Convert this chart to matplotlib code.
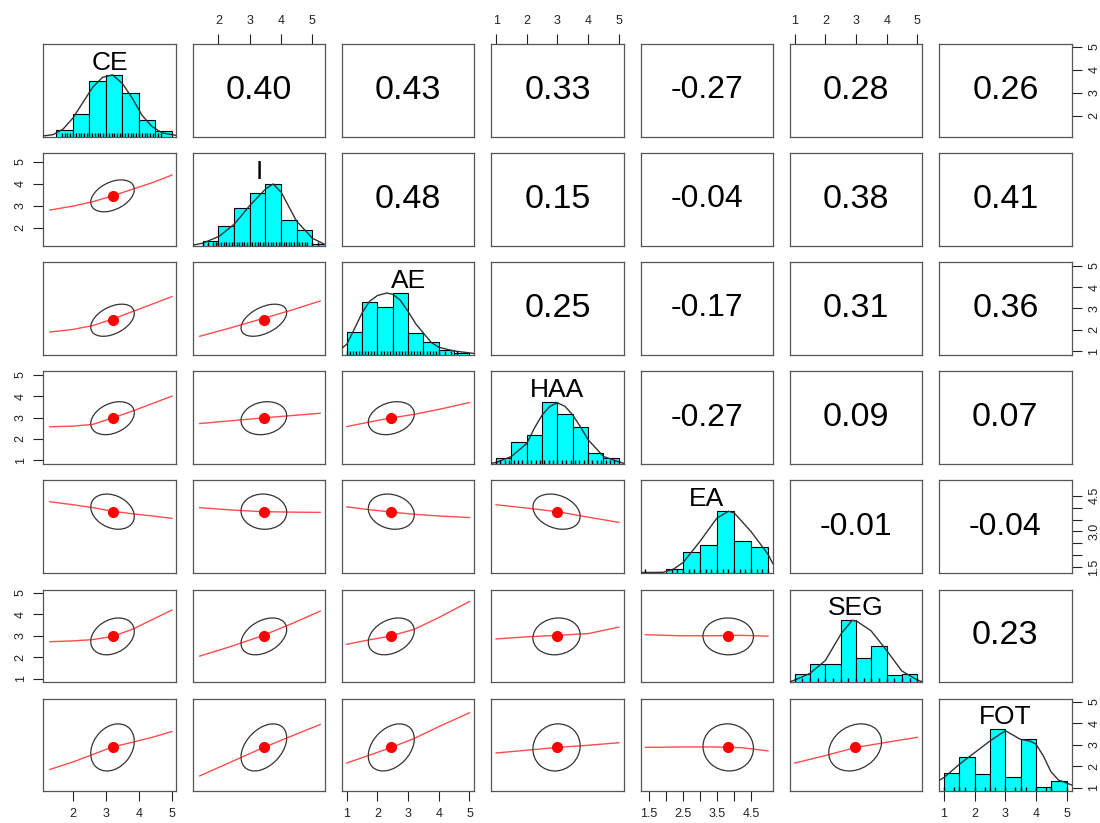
import numpy as np
import matplotlib.pyplot as plt
from matplotlib.patches import Ellipse
from matplotlib.transforms import Affine2D

plt.rcParams['font.family'] = ['Liberation Sans', 'DejaVu Sans']

# ---- data ----
names = ['CE', 'I', 'AE', 'HAA', 'EA', 'SEG', 'FOT']
data_lo = [1.25, 1.33, 1.0, 1.0, 1.4, 1.0, 1.0]
data_hi = [4.97, 5.25, 5.0, 5.0, 5.0, 5.0, 5.0]
means = [3.2, 3.45, 2.45, 2.97, 3.83, 2.97, 2.88]
sds = [0.66, 0.73, 0.75, 0.77, 0.74, 0.86, 1.1]

cor = [[1.00, 0.40, 0.43, 0.33, -0.27, 0.28, 0.26],
       [0.40, 1.00, 0.48, 0.15, -0.04, 0.38, 0.41],
       [0.43, 0.48, 1.00, 0.25, -0.17, 0.31, 0.36],
       [0.33, 0.15, 0.25, 1.00, -0.27, 0.09, 0.07],
       [-0.27, -0.04, -0.17, -0.27, 1.00, -0.01, -0.04],
       [0.28, 0.38, 0.31, 0.09, -0.01, 1.00, 0.23],
       [0.26, 0.41, 0.36, 0.07, -0.04, 0.23, 1.00]]

# histogram breaks and heights (scaled so the tallest bar = 1)
ce_breaks = [1.5, 2.0, 2.5, 3.0, 3.5, 4.0, 4.5, 5.0]
ce_bars = [0.107, 0.358, 0.893, 1.0, 0.706, 0.262, 0.086]
i_breaks = [1.5, 2.0, 2.5, 3.0, 3.5, 4.0, 4.5, 5.0, 5.5]
i_bars = [0.08, 0.32, 0.61, 0.85, 1.0, 0.42, 0.25, 0.03]
ae_breaks = [1.0, 1.5, 2.0, 2.5, 3.0, 3.5, 4.0, 4.5, 5.0]
ae_bars = [0.37, 0.85, 0.78, 1.0, 0.36, 0.20, 0.08, 0.03]
haa_breaks = [1.0, 1.5, 2.0, 2.5, 3.0, 3.5, 4.0, 4.5, 5.0]
haa_bars = [0.09, 0.35, 0.46, 1.0, 0.81, 0.59, 0.18, 0.09]
ea_breaks = [1.0, 1.5, 2.0, 2.5, 3.0, 3.5, 4.0, 4.5, 5.0]
ea_bars = [0.02, 0.0, 0.06, 0.34, 0.45, 1.0, 0.51, 0.42]
seg_breaks = [1.0, 1.5, 2.0, 2.5, 3.0, 3.5, 4.0, 4.5, 5.0]
seg_bars = [0.13, 0.30, 0.30, 1.0, 0.39, 0.58, 0.12, 0.13]
fot_breaks = [1.0, 1.5, 2.0, 2.5, 3.0, 3.5, 4.0, 4.5, 5.0]
fot_bars = [0.30, 0.56, 0.28, 1.0, 0.23, 0.84, 0.07, 0.16]

# density curves (scaled so the peak = 1)
ce_dx = [1.11, 1.4, 1.7, 2.0, 2.3, 2.6, 2.9, 3.2, 3.5, 3.8, 4.1, 4.4, 4.7, 5.11]
ce_dy = [0.01, 0.03, 0.12, 0.3, 0.55, 0.8, 0.96, 1.0, 0.86, 0.62, 0.34, 0.16, 0.06, 0.02]
i_dx = [1.21, 1.5, 2.02, 2.51, 3.0, 3.51, 3.75, 4.01, 4.49, 5.0, 5.39]
i_dy = [0.01, 0.04, 0.15, 0.35, 0.65, 0.92, 1.0, 0.86, 0.40, 0.12, 0.02]
ae_dx = [0.85, 1.0, 1.25, 1.5, 1.75, 2.0, 2.3, 2.5, 2.75, 3.0, 3.25, 3.5, 3.75, 4.0, 4.5, 5.15]
ae_dy = [0.11, 0.17, 0.42, 0.68, 0.87, 0.96, 1.0, 0.98, 0.88, 0.7, 0.5, 0.35, 0.2, 0.12, 0.06, 0.02]
haa_dx = [0.85, 1.0, 1.5, 2.0, 2.25, 2.5, 2.75, 3.0, 3.25, 3.5, 3.75, 4.0, 4.5, 5.0, 5.15]
haa_dy = [0.01, 0.02, 0.12, 0.33, 0.58, 0.79, 0.93, 0.99, 0.93, 0.79, 0.6, 0.39, 0.12, 0.03, 0.01]
ea_dx = [1.26, 1.92, 2.22, 2.51, 3.0, 3.5, 3.84, 4.01, 4.5, 5.0, 5.14]
ea_dy = [0.005, 0.01, 0.06, 0.17, 0.51, 0.89, 1.0, 0.97, 0.67, 0.30, 0.15]
seg_dx = [0.87, 1.0, 1.5, 2.0, 2.51, 2.87, 3.01, 3.49, 4.0, 4.49, 5.0, 5.16]
seg_dy = [0.01, 0.03, 0.14, 0.35, 0.78, 1.0, 0.99, 0.83, 0.51, 0.18, 0.03, 0.005]
fot_dx = [0.86, 1.0, 1.49, 1.99, 2.49, 3.0, 3.49, 3.81, 4.0, 4.24, 4.48, 4.73, 5.0, 5.16]
fot_dy = [0.18, 0.22, 0.43, 0.62, 0.81, 0.98, 0.84, 0.81, 0.76, 0.57, 0.32, 0.18, 0.13, 0.10]

# rug values
ce_rug = [1.67, 1.75, 1.83, 1.92, 2.0, 2.08, 2.17, 2.25, 2.33, 2.42, 2.5, 2.58, 2.67, 2.75,
          2.83, 2.92, 3.0, 3.08, 3.17, 3.25, 3.33, 3.42, 3.5, 3.58, 3.67, 3.75, 3.83, 3.92,
          4.0, 4.08, 4.17, 4.25, 4.33, 4.42, 4.58, 4.67]
i_rug = [1.5, 1.67, 1.83, 1.92, 2.0, 2.08, 2.17, 2.25, 2.33, 2.42, 2.5, 2.58, 2.67, 2.75,
         2.83, 2.92, 3.0, 3.08, 3.17, 3.25, 3.33, 3.42, 3.5, 3.58, 3.67, 3.75, 3.83, 3.92,
         4.0, 4.08, 4.17, 4.25, 4.33, 4.42, 4.5, 4.58, 4.67, 4.75, 4.83, 5.0, 5.17]
ae_rug = [1.0, 1.1, 1.2, 1.3, 1.4, 1.5, 1.6, 1.7, 1.8, 1.9, 2.0, 2.1, 2.2, 2.3, 2.4, 2.5,
          2.6, 2.7, 2.8, 2.9, 3.0, 3.1, 3.2, 3.3, 3.4, 3.5, 3.6, 3.7, 3.8, 3.9, 4.0, 4.2,
          4.4, 4.6]
haa_rug = [1.0, 1.14, 1.29, 1.43, 1.57, 1.71, 1.86, 2.0, 2.14, 2.29, 2.43, 2.57, 2.71,
           2.86, 3.0, 3.14, 3.29, 3.43, 3.57, 3.71, 3.86, 4.0, 4.14, 4.29, 4.43, 4.57,
           4.71, 4.86, 5.0]
ea_rug = [1.4, 2.17, 2.33, 2.5, 2.67, 2.83, 3.0, 3.17, 3.33, 3.5, 3.67, 3.83, 4.0, 4.17,
          4.33, 4.5, 4.67, 4.83, 5.0]
seg_rug = [1.0, 1.25, 1.5, 1.75, 2.0, 2.25, 2.5, 2.75, 3.0, 3.25, 3.5, 3.75, 4.0, 4.25,
           4.5, 4.75, 5.0]
fot_rug = [1.0, 1.33, 1.5, 1.67, 2.0, 2.33, 2.5, 2.67, 3.0, 3.33, 3.5, 3.67, 4.0, 4.33,
           4.5, 5.0]

# smoother (loess) points: x grids per x-variable, y values per pair
grid_CE = [1.3, 2.0, 2.6, 3.2, 3.8, 4.4, 5.0]
grid_I = [1.4, 2.4, 3.4, 4.4, 5.25]
grid_AE = [1.0, 1.7, 2.4, 3.2, 4.0, 5.0]
grid_HAA = [1.0, 2.0, 3.0, 4.0, 5.0]
grid_EA = [1.4, 2.4, 3.4, 4.2, 5.0]
grid_SEG = [1.0, 2.0, 3.0, 4.0, 5.0]

fit_I_CE = [2.8, 2.98, 3.18, 3.45, 3.75, 4.05, 4.4]
fit_AE_CE = [1.9, 2.02, 2.2, 2.5, 2.85, 3.2, 3.55]
fit_AE_I = [1.7, 2.1, 2.52, 2.95, 3.35]
fit_HAA_CE = [2.57, 2.6, 2.68, 2.98, 3.3, 3.65, 4.0]
fit_HAA_I = [2.72, 2.85, 2.98, 3.1, 3.2]
fit_HAA_AE = [2.58, 2.78, 2.97, 3.15, 3.38, 3.7]
fit_EA_CE = [4.25, 4.12, 4.0, 3.85, 3.74, 3.65, 3.55]
fit_EA_I = [4.0, 3.9, 3.83, 3.81, 3.8]
fit_EA_AE = [4.03, 3.92, 3.82, 3.72, 3.65, 3.58]
fit_EA_HAA = [4.12, 3.98, 3.83, 3.6, 3.38]
fit_SEG_CE = [2.72, 2.76, 2.82, 2.97, 3.3, 3.75, 4.2]
fit_SEG_I = [2.05, 2.5, 3.0, 3.6, 4.15]
fit_SEG_AE = [2.6, 2.8, 2.98, 3.3, 3.85, 4.6]
fit_SEG_HAA = [2.85, 2.95, 3.02, 3.1, 3.4]
fit_SEG_EA = [3.05, 3.0, 3.0, 3.02, 2.98]
fit_FOT_CE = [1.85, 2.2, 2.55, 2.9, 3.12, 3.35, 3.62]
fit_FOT_I = [1.55, 2.2, 2.85, 3.45, 3.95]
fit_FOT_AE = [2.15, 2.5, 2.85, 3.3, 3.85, 4.5]
fit_FOT_HAA = [2.62, 2.75, 2.88, 2.98, 3.1]
fit_FOT_EA = [2.88, 2.9, 2.9, 2.87, 2.72]
fit_FOT_SEG = [2.15, 2.5, 2.88, 3.12, 3.35]

breaks = [ce_breaks, i_breaks, ae_breaks, haa_breaks, ea_breaks, seg_breaks, fot_breaks]
bars = [ce_bars, i_bars, ae_bars, haa_bars, ea_bars, seg_bars, fot_bars]
dens_x = [ce_dx, i_dx, ae_dx, haa_dx, ea_dx, seg_dx, fot_dx]
dens_y = [ce_dy, i_dy, ae_dy, haa_dy, ea_dy, seg_dy, fot_dy]
rugs = [ce_rug, i_rug, ae_rug, haa_rug, ea_rug, seg_rug, fot_rug]
grids = [grid_CE, grid_I, grid_AE, grid_HAA, grid_EA, grid_SEG]
fits = {
    (1, 0): fit_I_CE,
    (2, 0): fit_AE_CE, (2, 1): fit_AE_I,
    (3, 0): fit_HAA_CE, (3, 1): fit_HAA_I, (3, 2): fit_HAA_AE,
    (4, 0): fit_EA_CE, (4, 1): fit_EA_I, (4, 2): fit_EA_AE, (4, 3): fit_EA_HAA,
    (5, 0): fit_SEG_CE, (5, 1): fit_SEG_I, (5, 2): fit_SEG_AE, (5, 3): fit_SEG_HAA,
    (5, 4): fit_SEG_EA,
    (6, 0): fit_FOT_CE, (6, 1): fit_FOT_I, (6, 2): fit_FOT_AE, (6, 3): fit_FOT_HAA,
    (6, 4): fit_FOT_EA, (6, 5): fit_FOT_SEG,
}

tick_vals = [[2, 3, 4, 5], [2, 3, 4, 5], [1, 2, 3, 4, 5], [1, 2, 3, 4, 5],
             [1.5, 2.0, 2.5, 3.0, 3.5, 4.0, 4.5], [1, 2, 3, 4, 5], [1, 2, 3, 4, 5]]
ea_bottom_labels = ['1.5', '', '2.5', '', '3.5', '', '4.5']
ea_right_labels = ['1.5', '', '', '3.0', '', '', '4.5']

# ---- layout (pixels) ----
W, H = 1100, 823
fig = plt.figure(figsize=(W / 100, H / 100), dpi=100)
left0, top0 = 43.3, 44.0
pitch_x, pitch_y = 149.3, 109.1
pw, ph = 132.5, 92.5
n = len(names)

box_col = '#555555'
lims = []
for k in range(n):
    span = data_hi[k] - data_lo[k]
    lims.append((data_lo[k] - 0.04 * span, data_hi[k] + 0.04 * span))


def rect(i, j):
    x = left0 + j * pitch_x
    y = top0 + i * pitch_y
    return [x / W, 1 - (y + ph) / H, pw / W, ph / H]


for i in range(n):
    for j in range(n):
        ax = fig.add_axes(rect(i, j))
        ax.set_xlim(lims[j])
        ax.set_ylim(lims[i])
        for s in ax.spines.values():
            s.set_color(box_col)
            s.set_linewidth(0.9)
        ax.tick_params(which='both', length=0, labelbottom=False, labelleft=False,
                       colors='#222222', labelsize=9)
        ax.set_xticks([])
        ax.set_yticks([])

        if i == j:
            hax = fig.add_axes(rect(i, j), frameon=False)
            hax.set_xlim(lims[j])
            hax.set_ylim(0, 1.5)
            hax.set_xticks([])
            hax.set_yticks([])
            b = breaks[j]
            hax.bar(b[:-1], bars[j], width=np.diff(b), align='edge',
                    color='#00FFFF', edgecolor='black', linewidth=0.8)
            hax.plot(dens_x[j], dens_y[j], color='#333333', lw=1.0)
            hax.vlines(rugs[j], 0, 0.06, color='black', lw=1.0)
            hax.text(0.5, 0.8, names[j], transform=hax.transAxes, ha='center',
                     va='center', fontsize=19)
        elif i < j:
            r = cor[i][j]
            ax.text(0.5, 0.5, f'{r:.2f}', transform=ax.transAxes, ha='center',
                    va='center', fontsize=24.5 if r >= 0 else 23)
        else:
            r = cor[i][j]
            ax.plot(grids[j], fits[(i, j)], color='red', lw=1.0, alpha=0.7)
            tr = Affine2D().scale(sds[j], sds[i]).translate(means[j], means[i]) + ax.transData
            ax.add_patch(Ellipse((0, 0), 2 * np.sqrt(1 + r), 2 * np.sqrt(1 - r), angle=45,
                                 fill=False, edgecolor='#333333', lw=0.9, transform=tr))
            ax.plot([means[j]], [means[i]], 'o', color='red', ms=7, mec='red')

        # outer axes, alternating sides like pairs()
        if i == 0 and j % 2 == 1:
            ax.set_xticks(tick_vals[j])
            ax.xaxis.set_ticks_position('top')
            ax.tick_params(axis='x', length=7, width=0.8, labeltop=True, pad=5)
        if i == n - 1 and j % 2 == 0:
            ax.set_xticks(tick_vals[j])
            if j == 4:
                ax.set_xticklabels(ea_bottom_labels)
            ax.tick_params(axis='x', length=7, width=0.8, labelbottom=True, pad=5)
        if j == 0 and i % 2 == 1:
            ax.set_yticks(tick_vals[i])
            ax.tick_params(axis='y', length=7, width=0.8, labelleft=True, pad=5,
                           labelrotation=90)
            for t in ax.get_yticklabels():
                t.set_va('center')
        if j == n - 1 and i % 2 == 0:
            ax.set_yticks(tick_vals[i])
            if i == 4:
                ax.set_yticklabels(ea_right_labels)
            ax.yaxis.set_ticks_position('right')
            ax.tick_params(axis='y', length=7, width=0.8, labelright=True, pad=5,
                           labelrotation=90)
            for t in ax.get_yticklabels():
                t.set_va('center')

fig.savefig('out.png', dpi=100)
